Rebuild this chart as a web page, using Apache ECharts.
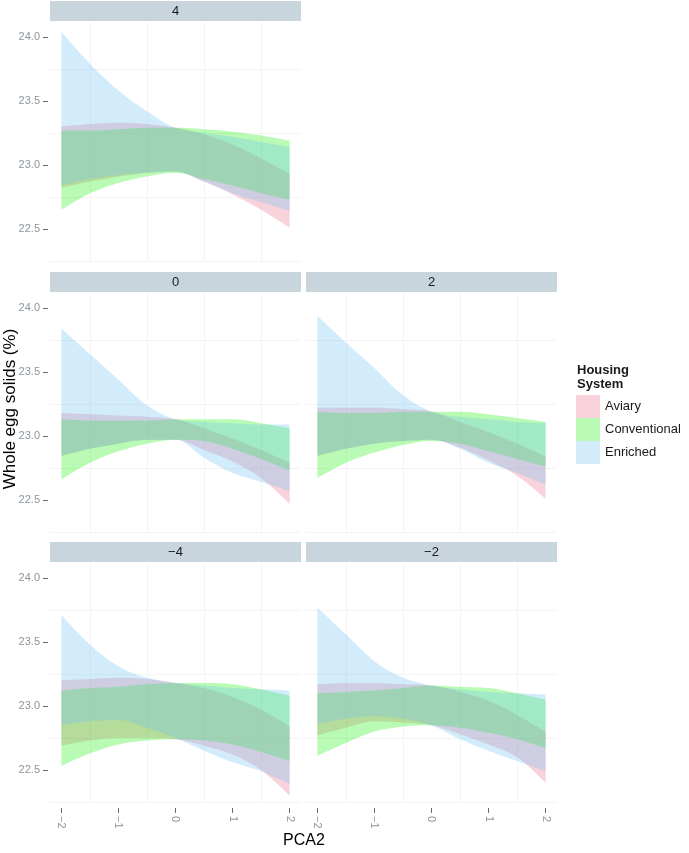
<!DOCTYPE html>
<html>
<head>
<meta charset="utf-8">
<title>Whole egg solids by PCA2</title>
<script src="https://cdn.jsdelivr.net/npm/echarts@6/dist/echarts.min.js"></script>
<style>
html,body{margin:0;padding:0;background:#ffffff;}
#chart{width:689px;height:853px;}
</style>
</head>
<body>
<div id="chart"></div>
<script>
// ---------------- data ----------------
const xValues = [-2, -1.5, -1, -0.5, 0, 0.5, 1, 1.5, 2];
const xTicks = [-2, -1, 0, 1, 2];
const xMinor = [-1.5, -0.5, 0.5, 1.5];
const yTicks = [22.5, 23.0, 23.5, 24.0];
const yMinor = [22.25, 22.75, 23.25, 23.75];
const groups = ['Aviary', 'Conventional', 'Enriched'];
const panelNames = ['4', '0', '2', '\u22124', '\u22122'];

// panel "4"
const p4AviaryLo = [22.82, 22.87, 22.91, 22.94, 22.95, 22.87, 22.77, 22.65, 22.51];
const p4AviaryHi = [23.30, 23.32, 23.33, 23.32, 23.29, 23.24, 23.16, 23.05, 22.93];
const p4ConvLo   = [22.65, 22.78, 22.86, 22.91, 22.94, 22.89, 22.84, 22.78, 22.73];
const p4ConvHi   = [23.27, 23.27, 23.28, 23.29, 23.29, 23.28, 23.26, 23.23, 23.19];
const p4EnrLo    = [22.84, 22.89, 22.92, 22.94, 22.95, 22.87, 22.78, 22.71, 22.64];
const p4EnrHi    = [24.04, 23.79, 23.58, 23.42, 23.29, 23.25, 23.22, 23.18, 23.14];

// panel "0"
const p0AviaryLo = [22.84, 22.90, 22.94, 22.97, 22.97, 22.89, 22.80, 22.67, 22.47];
const p0AviaryHi = [23.18, 23.17, 23.16, 23.15, 23.13, 23.06, 22.98, 22.89, 22.79];
const p0ConvLo   = [22.66, 22.79, 22.88, 22.94, 22.97, 22.96, 22.90, 22.82, 22.73];
const p0ConvHi   = [23.13, 23.12, 23.12, 23.12, 23.13, 23.13, 23.13, 23.10, 23.06];
const p0EnrLo    = [22.85, 22.90, 22.94, 22.97, 22.97, 22.83, 22.71, 22.64, 22.57];
const p0EnrHi    = [23.84, 23.64, 23.44, 23.24, 23.13, 23.11, 23.10, 23.09, 23.09];

// panel "2"
const p2AviaryLo = [22.84, 22.90, 22.94, 22.96, 22.97, 22.91, 22.81, 22.69, 22.51];
const p2AviaryHi = [23.22, 23.22, 23.22, 23.21, 23.19, 23.11, 23.03, 22.94, 22.84];
const p2ConvLo   = [22.67, 22.79, 22.87, 22.93, 22.96, 22.94, 22.88, 22.82, 22.76];
const p2ConvHi   = [23.19, 23.18, 23.18, 23.19, 23.19, 23.19, 23.17, 23.14, 23.11];
const p2EnrLo    = [22.85, 22.90, 22.94, 22.96, 22.97, 22.90, 22.79, 22.71, 22.62];
const p2EnrHi    = [23.94, 23.73, 23.53, 23.32, 23.19, 23.15, 23.13, 23.11, 23.10];

// panel "-4"
const m4AviaryLo = [22.69, 22.73, 22.75, 22.75, 22.74, 22.69, 22.62, 22.50, 22.30];
const m4AviaryHi = [23.20, 23.21, 23.22, 23.21, 23.18, 23.14, 23.07, 22.97, 22.84];
const m4ConvLo   = [22.53, 22.63, 22.70, 22.73, 22.74, 22.73, 22.70, 22.64, 22.57];
const m4ConvHi   = [23.12, 23.14, 23.15, 23.17, 23.18, 23.18, 23.17, 23.13, 23.08];
const m4EnrLo    = [22.85, 22.88, 22.89, 22.83, 22.75, 22.65, 22.56, 22.49, 22.39];
const m4EnrHi    = [23.71, 23.48, 23.31, 23.22, 23.18, 23.16, 23.14, 23.13, 23.12];

// panel "-2"
const m2AviaryLo = [22.77, 22.83, 22.88, 22.87, 22.85, 22.78, 22.70, 22.60, 22.40];
const m2AviaryHi = [23.17, 23.18, 23.18, 23.17, 23.16, 23.11, 23.04, 22.93, 22.80];
const m2ConvLo   = [22.61, 22.71, 22.80, 22.84, 22.85, 22.83, 22.79, 22.74, 22.67];
const m2ConvHi   = [23.10, 23.11, 23.12, 23.14, 23.16, 23.15, 23.14, 23.10, 23.05];
const m2EnrLo    = [22.86, 22.90, 22.92, 22.90, 22.85, 22.74, 22.65, 22.57, 22.49];
const m2EnrHi    = [23.77, 23.56, 23.35, 23.22, 23.16, 23.13, 23.11, 23.10, 23.09];

const panelBands = [
  {Aviary: [p4AviaryLo, p4AviaryHi], Conventional: [p4ConvLo, p4ConvHi], Enriched: [p4EnrLo, p4EnrHi]},
  {Aviary: [p0AviaryLo, p0AviaryHi], Conventional: [p0ConvLo, p0ConvHi], Enriched: [p0EnrLo, p0EnrHi]},
  {Aviary: [p2AviaryLo, p2AviaryHi], Conventional: [p2ConvLo, p2ConvHi], Enriched: [p2EnrLo, p2EnrHi]},
  {Aviary: [m4AviaryLo, m4AviaryHi], Conventional: [m4ConvLo, m4ConvHi], Enriched: [m4EnrLo, m4EnrHi]},
  {Aviary: [m2AviaryLo, m2AviaryHi], Conventional: [m2ConvLo, m2ConvHi], Enriched: [m2EnrLo, m2EnrHi]}
];

// ---------------- layout / style ----------------
const FONT = '"Liberation Sans", Arial, sans-serif';
const bandColors = {
  Aviary: 'rgba(235,108,138,0.30)',
  Conventional: 'rgba(22,242,5,0.30)',
  Enriched: 'rgba(108,192,242,0.30)'
};
const PW = 251, PH = 240;
const panelBoxes = [[50, 22], [50, 293], [306, 293], [50, 563], [306, 563]];
const showYLabels = [true, true, false, true, false];
const showXLabels = [false, false, false, true, true];
const X_MIN = -2.2, X_MAX = 2.2;
const Y_MIN = 22.242, Y_MAX = 24.117;
const GRID_COLOR = '#f4f4f4';
const fmtNum = v => (v < 0 ? '\u2212' : '') + Math.abs(v);

const option = {
  animation: false,
  backgroundColor: '#ffffff',
  textStyle: {fontFamily: FONT},
  grid: [], xAxis: [], yAxis: [], series: [],
  legend: {
    orient: 'vertical', left: 576, top: 395,
    itemWidth: 24, itemHeight: 23, itemGap: 0, icon: 'rect', padding: 0,
    selectedMode: false,
    textStyle: {fontSize: 13, color: '#1a1a1a', fontFamily: FONT},
    data: groups.map(g => ({name: g, itemStyle: {color: bandColors[g], borderWidth: 0}}))
  },
  graphic: []
};

panelBands.forEach((bands, i) => {
  const [gx, gy] = panelBoxes[i];
  const frameGrid = option.grid.length;
  option.grid.push({left: gx, top: gy, width: PW, height: PH});
  const dataGrid = option.grid.length;
  option.grid.push({
    left: gx + PW * (xValues[0] - X_MIN) / (X_MAX - X_MIN),
    top: gy,
    width: PW * (xValues[xValues.length - 1] - xValues[0]) / (X_MAX - X_MIN),
    height: PH
  });

  // frame axes: ticks + labels
  option.xAxis.push({
    type: 'value', gridIndex: frameGrid, min: X_MIN, max: X_MAX, position: 'bottom', offset: 5,
    axisLine: {show: false, onZero: false}, splitLine: {show: false},
    axisTick: {show: showXLabels[i], customValues: xTicks, length: 5, lineStyle: {color: '#6a6a6a'}},
    axisLabel: {show: showXLabels[i], customValues: xTicks, rotate: -90, margin: 8,
                color: '#8c959c', fontSize: 11, formatter: fmtNum}
  });
  // frame axes: faint grid lines
  option.xAxis.push({
    type: 'value', gridIndex: frameGrid, min: X_MIN, max: X_MAX, position: 'top',
    axisLine: {show: false, onZero: false}, axisLabel: {show: false},
    axisTick: {show: false, customValues: xMinor},
    splitLine: {show: true, lineStyle: {color: GRID_COLOR, width: 1}}
  });
  // data axis
  option.xAxis.push({
    type: 'category', gridIndex: dataGrid, data: xValues.map(String), boundaryGap: false, show: false,
    axisLine: {onZero: false}
  });

  option.yAxis.push({
    type: 'value', gridIndex: frameGrid, min: Y_MIN, max: Y_MAX, position: 'left', offset: 2,
    axisLine: {show: false, onZero: false}, splitLine: {show: false},
    axisTick: {show: showYLabels[i], customValues: yTicks, length: 5, lineStyle: {color: '#6a6a6a'}},
    axisLabel: {show: showYLabels[i], customValues: yTicks, margin: 8,
                color: '#8c959c', fontSize: 11, formatter: v => v.toFixed(1)}
  });
  option.yAxis.push({
    type: 'value', gridIndex: frameGrid, min: Y_MIN, max: Y_MAX, position: 'right',
    axisLine: {show: false, onZero: false}, axisLabel: {show: false},
    axisTick: {show: false, customValues: yMinor},
    splitLine: {show: true, lineStyle: {color: GRID_COLOR, width: 1}}
  });
  option.yAxis.push({
    type: 'value', gridIndex: dataGrid, min: Y_MIN, max: Y_MAX, show: false,
    axisLine: {onZero: false}
  });

  const xi = option.xAxis.length - 1, yi = option.yAxis.length - 1;
  groups.forEach(g => {
    const [lo, hi] = bands[g];
    const stack = 'panel' + i + g;
    option.series.push({
      type: 'line', name: g, color: bandColors[g], xAxisIndex: xi, yAxisIndex: yi,
      stack: stack, smooth: 0.35, symbol: 'none', silent: true,
      lineStyle: {width: 0, opacity: 0},
      data: lo.slice()
    });
    option.series.push({
      type: 'line', name: g, color: bandColors[g], xAxisIndex: xi, yAxisIndex: yi,
      stack: stack, smooth: 0.35, symbol: 'none', silent: true,
      lineStyle: {width: 0, opacity: 0},
      areaStyle: {color: bandColors[g], opacity: 1},
      data: hi.map((h, k) => +(h - lo[k]).toFixed(4))
    });
  });

  // facet strip
  option.graphic.push({
    type: 'rect', z: 10,
    shape: {x: gx, y: gy - 21, width: PW, height: 20},
    style: {fill: '#c9d5dd'}
  });
  option.graphic.push({
    type: 'text', z: 11, x: gx + PW / 2, y: gy - 11,
    style: {text: panelNames[i], fontSize: 13, fontFamily: FONT, fill: '#1a1a1a',
            align: 'center', verticalAlign: 'middle'}
  });
});

// axis titles and legend title
option.graphic.push({
  type: 'text', x: 304, y: 841,
  style: {text: 'PCA2', fontSize: 16, fontFamily: FONT, fill: '#000000', align: 'center', verticalAlign: 'middle'}
});
option.graphic.push({
  type: 'text', x: 10, y: 409, rotation: Math.PI / 2,
  style: {text: 'Whole egg solids (%)', fontSize: 17, fontFamily: FONT, fill: '#000000',
          align: 'center', verticalAlign: 'middle'}
});
option.graphic.push({
  type: 'text', x: 577, y: 363,
  style: {text: 'Housing\nSystem', fontSize: 13, fontWeight: 'bold', fontFamily: FONT,
          fill: '#1a1a1a', lineHeight: 14, align: 'left', verticalAlign: 'top'}
});

const chart = echarts.init(document.getElementById('chart'), null, {renderer: 'canvas'});
chart.setOption(option);
</script>
</body>
</html>
